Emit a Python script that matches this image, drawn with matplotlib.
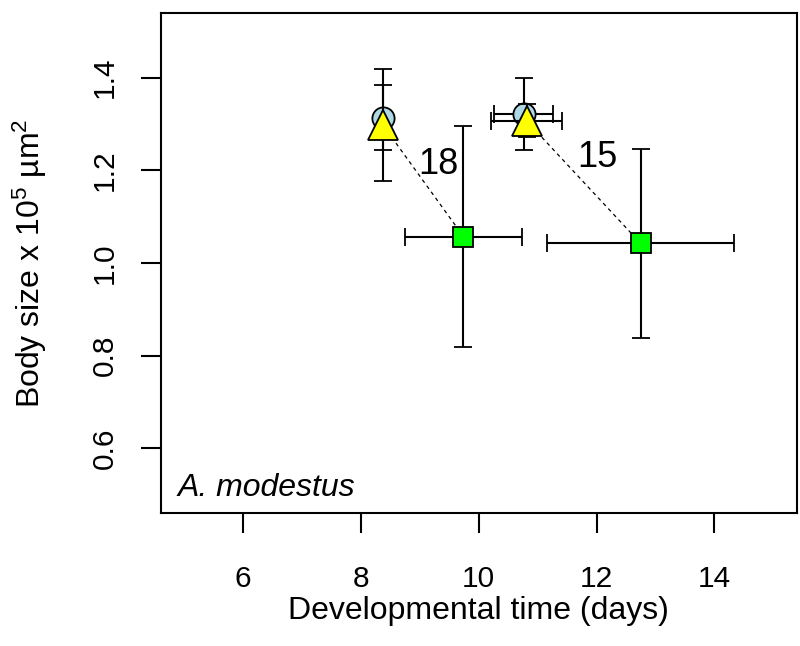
import numpy as np
import matplotlib
matplotlib.use("Agg")
import matplotlib.pyplot as plt

plt.rcParams['font.family'] = ['Liberation Sans', 'DejaVu Sans']
plt.rcParams['mathtext.fontset'] = 'custom'
plt.rcParams['mathtext.rm'] = 'Liberation Sans'
plt.rcParams['mathtext.default'] = 'regular'

# temperature groups (labels placed next to the squares)
temps = ['18', '15']
label_x = [9.32, 12.02]
label_y = [1.212, 1.228]

# circles (light blue)
circ_x = [8.37, 10.76]
circ_xerr = [0.04, 0.50]
circ_y = [1.314, 1.322]
circ_yerr = [0.070, 0.078]

# triangles (yellow)
tri_x = [8.37, 10.81]
tri_xerr = [0.05, 0.61]
tri_y = [1.298, 1.307]
tri_yerr = [0.121, 0.036]

# squares (green)
sq_x = [9.74, 12.75]
sq_xerr = [1.00, 1.59]
sq_y = [1.057, 1.042]
sq_yerr = [0.239, 0.204]

fig = plt.figure(figsize=(8, 6.46), dpi=100)
ax = fig.add_axes([0.201, 0.206, 0.795, 0.774])

# dashed links triangle -> square
for i in range(len(temps)):
    ax.plot([tri_x[i], sq_x[i]], [tri_y[i], sq_y[i]], ls=(0, (3, 3)),
            color='black', lw=0.9, zorder=1)

eb = dict(ecolor='black', elinewidth=1.5, capsize=6.5, capthick=1.5,
          ls='none', mec='black', mew=1.3)
ax.errorbar(circ_x, circ_y, xerr=circ_xerr, yerr=circ_yerr, marker='o',
            ms=16, mfc='#ADD8E6', zorder=2, **eb)
ax.errorbar(tri_x, tri_y, xerr=tri_xerr, yerr=tri_yerr, marker='^',
            ms=21, mfc='yellow', zorder=3, **eb)
ax.errorbar(sq_x, sq_y, xerr=sq_xerr, yerr=sq_yerr, marker='s',
            ms=15, mfc='#00FF00', zorder=4, **eb)

for t, lx, ly in zip(temps, label_x, label_y):
    ax.text(lx, ly, t, fontsize=26, ha='center', va='center')

ax.text(4.89, 0.514, 'A. modestus', fontsize=23, style='italic',
        ha='left', va='center')

ax.set_xlim(4.6, 15.4)
ax.set_ylim(0.46, 1.54)
ax.set_xticks([6, 8, 10, 12, 14])
ax.set_yticks([0.6, 0.8, 1.0, 1.2, 1.4])
ax.set_yticklabels(['0.6', '0.8', '1.0', '1.2', '1.4'], rotation=90,
                   va='center')
ax.tick_params(direction='out', length=14.5, width=1.5, labelsize=21.5)
ax.tick_params(axis='x', pad=23)
ax.tick_params(axis='y', pad=16)
for s in ax.spines.values():
    s.set_linewidth(1.5)

ax.set_xlabel('Developmental time (days)', fontsize=23, labelpad=2)
ax.set_ylabel('Body size x 10$^{5}$ µm$^{2}$', fontsize=23, labelpad=30)

fig.savefig('out.png', dpi=100)
